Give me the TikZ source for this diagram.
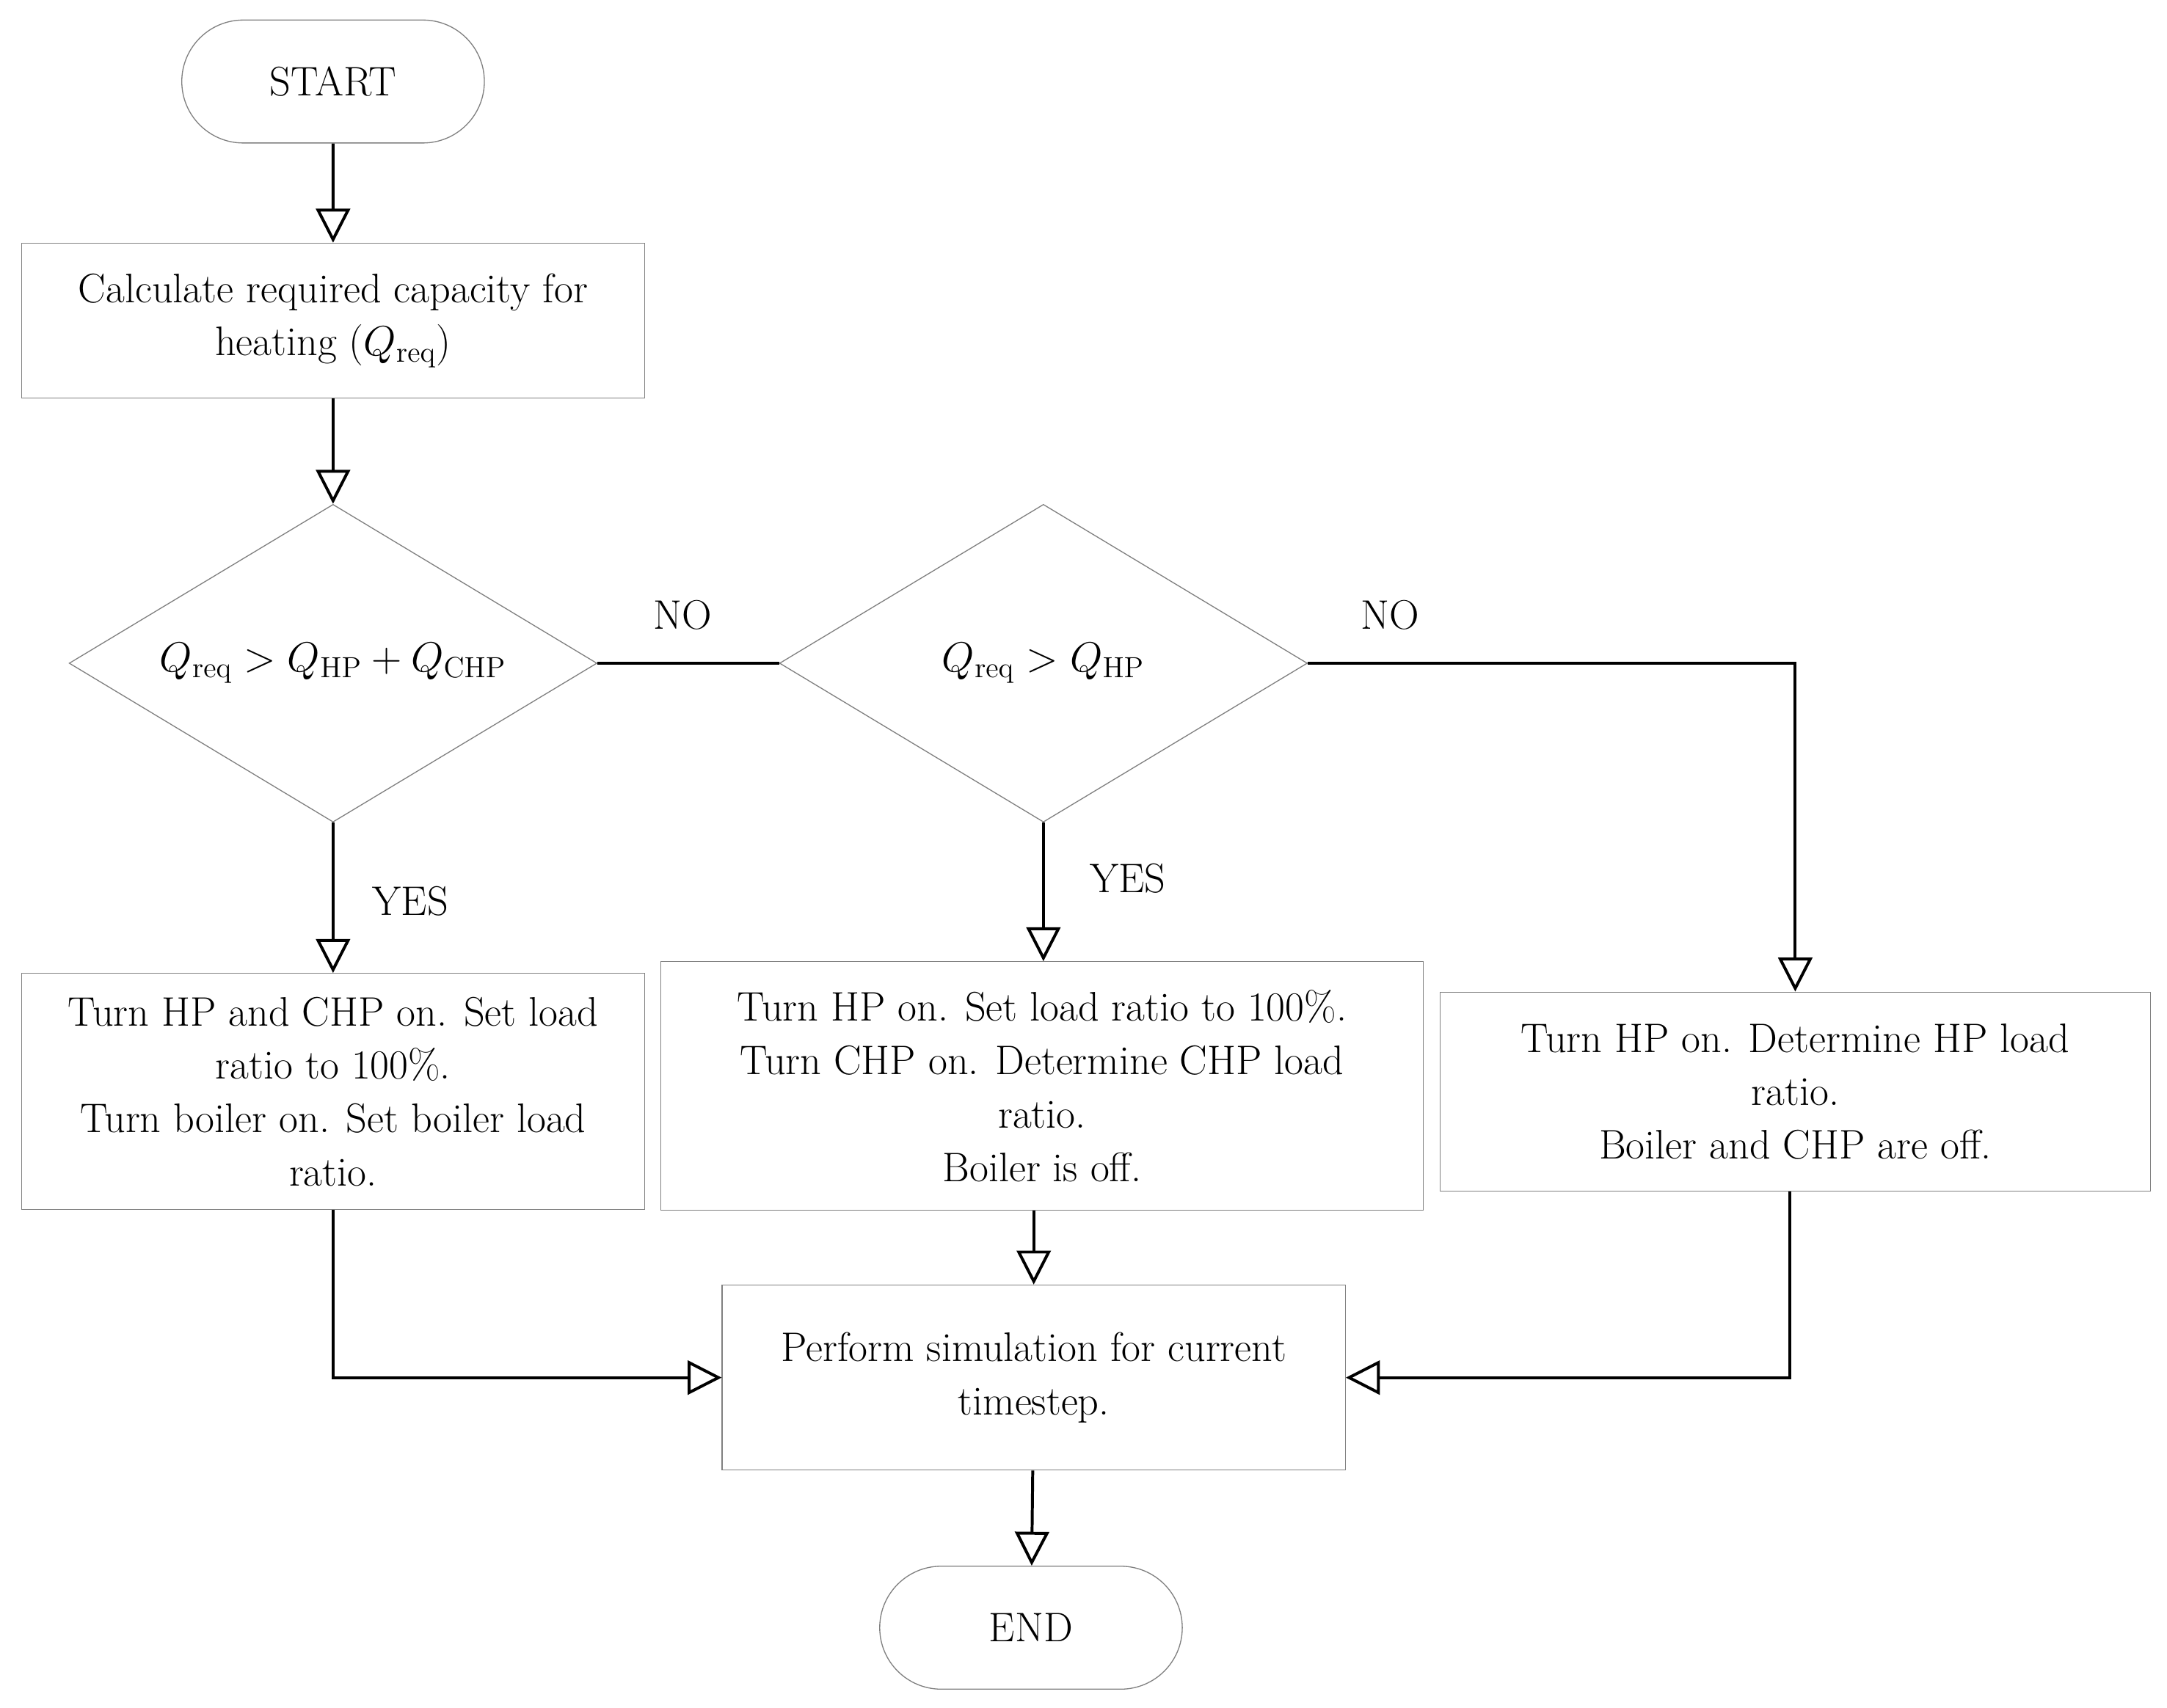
\documentclass[tikz,border=0pt]{standalone}
\usetikzlibrary{positioning, arrows.meta, shapes.geometric, shapes.misc}
\begin{document}
\begin{tikzpicture}[x=0.02cm, y=-0.02cm,
    every node/.style={font=\fontsize{17}{22}\selectfont},
    box/.style={draw=gray, thin, align=center, inner sep=2pt},
    term/.style={box, rounded rectangle, minimum width=4.52cm, minimum height=1.78cm},
    dec/.style={draw=gray, thin, diamond, aspect=1.66, inner sep=0pt, minimum width=7.64cm, minimum height=4.6cm},
    flow/.style={very thick, -{Triangle[open, length=14pt, width=14pt]}},
    plain/.style={very thick}]
    \useasboundingbox (0,0) rectangle (1568,1236);

    \node[term] (start) at (241,59) {START};
    \node[box, minimum width=9.02cm, minimum height=2.24cm] (calc) at (241,232)
        {Calculate required capacity for\\heating ($Q_{\mathrm{req}}$)};
    \node[dec] (d1) at (241,480) {$Q_{\mathrm{req}} > Q_{\mathrm{HP}} + Q_{\mathrm{CHP}}$};
    \node[dec] (d2) at (755,480) {$Q_{\mathrm{req}} > Q_{\mathrm{HP}}$};
    \node[box, minimum width=9.02cm, minimum height=3.42cm] (boxa) at (241,790)
        {Turn HP and CHP on. Set load\\ratio to 100\%.\\Turn boiler on. Set boiler load\\ratio.};
    \node[box, minimum width=11.04cm, minimum height=3.6cm] (boxb) at (754,786)
        {Turn HP on. Set load ratio to 100\%.\\Turn CHP on. Determine CHP load\\ratio.\\Boiler is off.};
    \node[box, minimum width=10.28cm, minimum height=2.88cm] (boxc) at (1299,790)
        {Turn HP on. Determine HP load\\ratio.\\Boiler and CHP are off.};
    \node[box, minimum width=9.02cm, minimum height=2.68cm] (sim) at (748,997)
        {Perform simulation for current\\timestep.};
    \node[term] (end) at (746,1178) {END};

    \coordinate (cright) at (1299,480);
    \coordinate (aturn) at (241,997);
    \coordinate (cturn) at (1295,997);

    \draw[flow] (start) -- (calc);
    \draw[flow] (calc) -- (d1);
    \draw[plain] (d1.east) -- (d2.west);
    \draw[flow] (d1.south) -- (boxa);
    \draw[flow] (d2.south) -- (d2.south |- boxb.north);
    \draw[flow] (d2.east) -- (cright) -- (boxc.north);
    \draw[flow] (boxa.south) -- (aturn) -- (sim.west);
    \draw[flow] (boxc.south -| cturn) -- (cturn) -- (sim.east);
    \draw[flow] (boxb.south -| sim.north) -- (sim.north);
    \draw[flow] (sim) -- (end);

    \node (no1) at (494,445) {NO};
    \node (no2) at (1006,445) {NO};
    \node (yes1) at (297,652) {YES};
    \node (yes2) at (816,636) {YES};
\end{tikzpicture}
\end{document}
